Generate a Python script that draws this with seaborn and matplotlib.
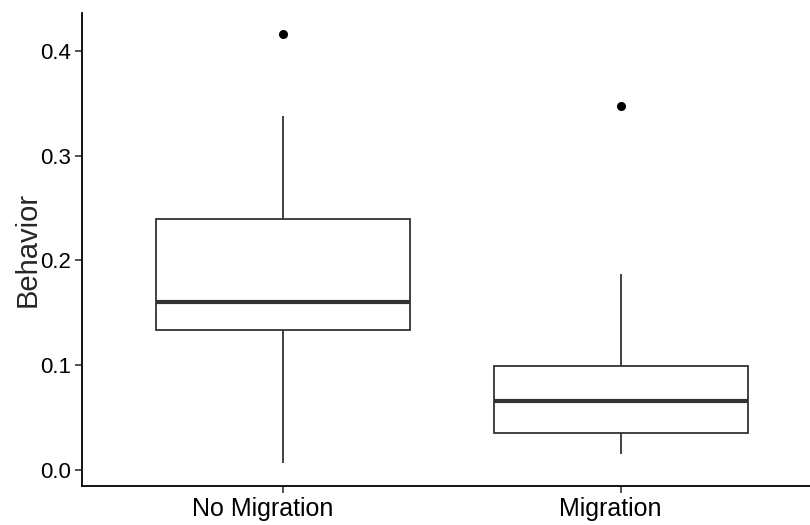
import pandas as pd
import numpy as np
import matplotlib
matplotlib.use("Agg")
import matplotlib.pyplot as plt
import matplotlib.transforms as mtransforms
import seaborn as sns

groups = ["No Migration", "Migration"]
no_migration = [0.0064, 0.070, 0.1337, 0.147, 0.160, 0.200, 0.240, 0.338, 0.4165]
migration = [0.0153, 0.025, 0.0356, 0.050, 0.0659, 0.083, 0.0996, 0.1868, 0.3475]

df = pd.DataFrame({
    "Group": [groups[0]] * len(no_migration) + [groups[1]] * len(migration),
    "Behavior": no_migration + migration,
})

sns.set_style("ticks")
plt.rcParams['font.family'] = ['Liberation Sans', 'DejaVu Sans']

fig = plt.figure(figsize=(8.1, 5.25), dpi=100)
ax = fig.add_axes([82 / 810, 39 / 525, 728 / 810, 473 / 525])

sns.boxplot(data=df, x="Group", y="Behavior", order=groups, ax=ax,
            width=0.75, color="white", linecolor="#333333", linewidth=1.3,
            whis=1.5, showcaps=False,
            medianprops=dict(linewidth=3.0, color="#333333"),
            flierprops=dict(marker="o", markerfacecolor="black",
                            markeredgecolor="black", markersize=5.5))

ax.set_xlim(-0.595, 1.56)
ax.set_ylim(-0.0153, 0.4363)
ax.set_yticks([0.0, 0.1, 0.2, 0.3, 0.4])
ax.set_yticklabels(["0.0", "0.1", "0.2", "0.3", "0.4"])
ax.set_xlabel("")
ax.set_ylabel("Behavior", fontsize=21, labelpad=-1)

for side in ["top", "right"]:
    ax.spines[side].set_visible(False)
for side in ["left", "bottom"]:
    ax.spines[side].set_linewidth(1.3)
    ax.spines[side].set_color("black")

ax.tick_params(axis="both", length=5, width=1.2, color="#333333",
               labelcolor="black", pad=3)
ax.tick_params(axis="x", labelsize=18)
ax.tick_params(axis="y", labelsize=16)

# the original's category labels sit a little left of their ticks
for lab, dx in zip(ax.get_xticklabels(), [-20, -11]):
    lab.set_transform(lab.get_transform() +
                      mtransforms.ScaledTranslation(dx / 100, 0, fig.dpi_scale_trans))

fig.savefig("out.png", dpi=100)
